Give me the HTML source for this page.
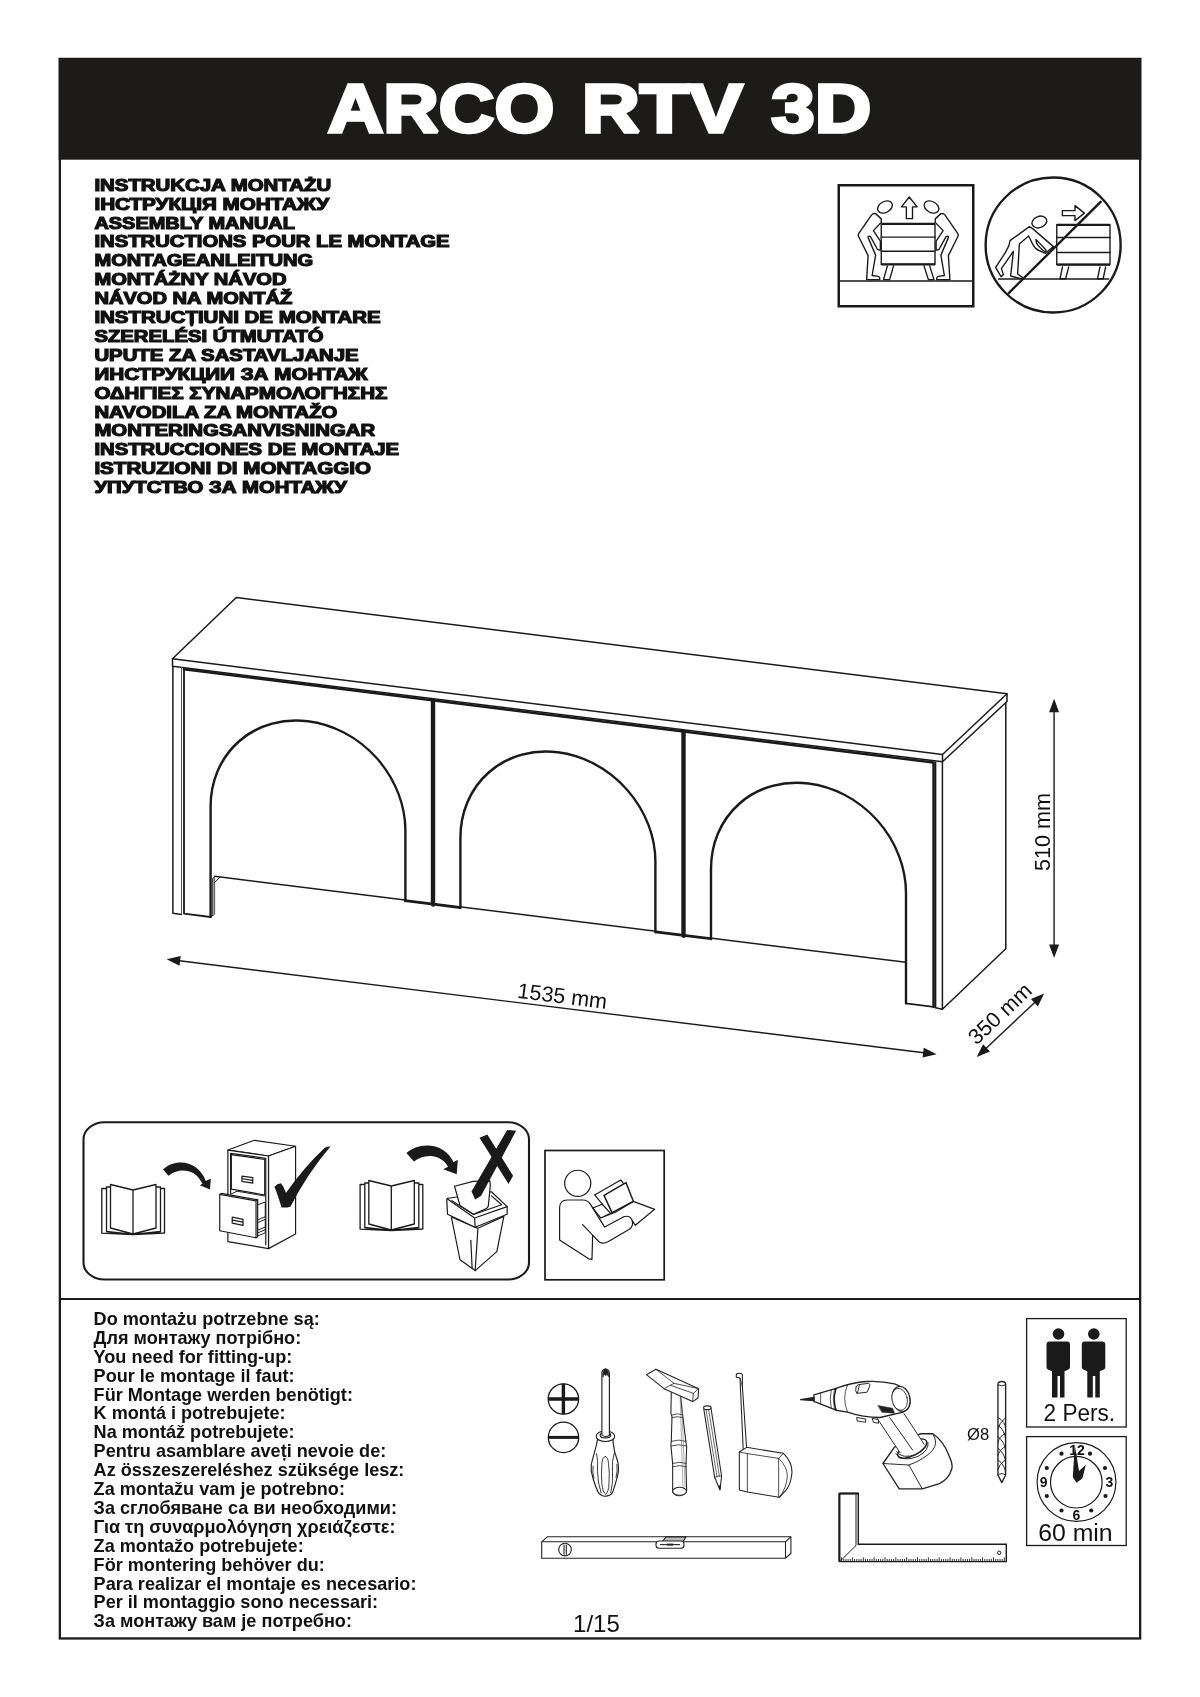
<!DOCTYPE html>
<html><head><meta charset="utf-8">
<style>
html,body{margin:0;padding:0;background:#fff;}
body{width:1200px;height:1697px;position:relative;overflow:hidden;font-family:"Liberation Sans",sans-serif;color:#111;}
svg{position:absolute;left:0;top:0;will-change:transform;}
.t{font-family:"Liberation Sans",sans-serif;}
</style></head><body>
<svg id="g" width="1200" height="1697" viewBox="0 0 1200 1697">
<!--FRAME-->
<rect x="59.85" y="59" width="1080.3" height="1579.45" fill="none" stroke="#1c1b1a" stroke-width="2.3"/>
<rect x="58.7" y="57.9" width="1082.6" height="101.8" fill="#1c1b1a"/>
<path d="M59 1299 H1141" stroke="#1c1b1a" stroke-width="1.9" fill="none"/>
<!--/FRAME-->
<!--TITLE-->
<g class="t" font-size="69" font-weight="bold" fill="#fff" stroke="#fff" stroke-width="3.4" stroke-linejoin="miter" stroke-miterlimit="2">
<text x="327.7" y="132.3" textLength="226.6" lengthAdjust="spacingAndGlyphs">ARCO</text>
<text x="581.7" y="132.3" textLength="161" lengthAdjust="spacingAndGlyphs">RTV</text>
<text x="771.2" y="132.3" textLength="100" lengthAdjust="spacingAndGlyphs">3D</text>
</g>
<!--LANGS-->
<g class="t" font-size="16.5" font-weight="bold" fill="#111" stroke="#111" stroke-width="1.2" stroke-linejoin="miter" stroke-miterlimit="2">
<text x="94.4" y="190.7" textLength="236.8" lengthAdjust="spacingAndGlyphs">INSTRUKCJA MONTAŻU</text>
<text x="94.4" y="209.6" textLength="234.7" lengthAdjust="spacingAndGlyphs">ІНСТРУКЦІЯ МОНТАЖУ</text>
<text x="94.4" y="228.5" textLength="200.5" lengthAdjust="spacingAndGlyphs">ASSEMBLY MANUAL</text>
<text x="94.4" y="247.4" textLength="355.2" lengthAdjust="spacingAndGlyphs">INSTRUCTIONS POUR LE MONTAGE</text>
<text x="94.4" y="266.3" textLength="218.8" lengthAdjust="spacingAndGlyphs">MONTAGEANLEITUNG</text>
<text x="94.4" y="285.2" textLength="192.2" lengthAdjust="spacingAndGlyphs">MONTÁŻNY NÁVOD</text>
<text x="94.4" y="304.1" textLength="198.0" lengthAdjust="spacingAndGlyphs">NÁVOD NA MONTÁŽ</text>
<text x="94.4" y="323.0" textLength="286.3" lengthAdjust="spacingAndGlyphs">INSTRUCȚIUNI DE MONTARE</text>
<text x="94.4" y="341.9" textLength="229.2" lengthAdjust="spacingAndGlyphs">SZERELÉSI ÚTMUTATÓ</text>
<text x="94.4" y="360.8" textLength="264.3" lengthAdjust="spacingAndGlyphs">UPUTE ZA SASTAVLJANJE</text>
<text x="94.4" y="379.7" textLength="273.0" lengthAdjust="spacingAndGlyphs">ИНСТРУКЦИИ ЗА МОНТАЖ</text>
<text x="94.4" y="398.6" textLength="293.0" lengthAdjust="spacingAndGlyphs">ΟΔΗΓΙΕΣ ΣΥΝΑΡΜΟΛΟΓΗΣΗΣ</text>
<text x="94.4" y="417.5" textLength="243.0" lengthAdjust="spacingAndGlyphs">NAVODILA ZA MONTAŽO</text>
<text x="94.4" y="436.4" textLength="280.8" lengthAdjust="spacingAndGlyphs">MONTERINGSANVISNINGAR</text>
<text x="94.4" y="455.3" textLength="304.7" lengthAdjust="spacingAndGlyphs">INSTRUCCIONES DE MONTAJE</text>
<text x="94.4" y="474.2" textLength="276.7" lengthAdjust="spacingAndGlyphs">ISTRUZIONI DI MONTAGGIO</text>
<text x="94.4" y="493.1" textLength="252.5" lengthAdjust="spacingAndGlyphs">УПУТСТВО ЗА МОНТАЖУ</text>
</g>
<!--/LANGS-->
<!--NEED-->
<g class="t" font-size="18.1" font-weight="bold" fill="#111">
<text x="93.6" y="1324.9">Do montażu potrzebne są:</text>
<text x="93.6" y="1343.8">Для монтажу потрібно:</text>
<text x="93.6" y="1362.7">You need for fitting-up:</text>
<text x="93.6" y="1381.6">Pour le montage il faut:</text>
<text x="93.6" y="1400.5">Für Montage werden benötigt:</text>
<text x="93.6" y="1419.4">K montá i potrebujete:</text>
<text x="93.6" y="1438.3">Na montáž potrebujete:</text>
<text x="93.6" y="1457.2">Pentru asamblare aveți nevoie de:</text>
<text x="93.6" y="1476.1">Az összeszereléshez szüksége lesz:</text>
<text x="93.6" y="1495.0">Za montažu vam je potrebno:</text>
<text x="93.6" y="1513.9">За сглобяване са ви необходими:</text>
<text x="93.6" y="1532.8">Για τη συναρμολόγηση χρειάζεστε:</text>
<text x="93.6" y="1551.7">Za montažo potrebujete:</text>
<text x="93.6" y="1570.6">För montering behöver du:</text>
<text x="93.6" y="1589.5">Para realizar el montaje es necesario:</text>
<text x="93.6" y="1608.4">Per il montaggio sono necessari:</text>
<text x="93.6" y="1627.3">За монтажу вам је потребно:</text>
</g>
<!--/NEED-->
<!--FURN-->
<g fill="none" stroke="#1a1a1a" stroke-width="1.5" stroke-linejoin="round" stroke-linecap="round">
<path d="M172.5 658.8 L236.3 597.5 L1007 693.8 L942.5 754.5 Z"/>
<path d="M172.5 658.8 V666.3 L942.5 761.8 V754.5 M942.5 761.8 L1007 701.5 V693.8"/>
<path d="M942.4 761.8 V1009.2 L1005.8 948.8 V702.6"/>
<path d="M935.6 762.0 V1007.7 L942.4 1009.2"/>
<g transform="matrix(1 0.1245 0 1 0 0)">
<path d="M172.9 644.8 V891.8 L181.5 891.8"/>
<path d="M181.5 645 V891.8" stroke="#555" stroke-width="1"/>
<path d="M184 646.4 H933.4" stroke-width="2.5"/>
<path d="M184 646.4 V890.8 H210.6" stroke-width="1.8"/>
<path d="M214.6 849.6 H905.8" stroke-width="1.5"/>
<path d="M405.0 850.6 H433.0" stroke-width="2"/>
<path d="M433.0 850.6 H460.4" stroke-width="2"/>
<path d="M655.4 850.6 H683.5" stroke-width="2"/>
<path d="M683.5 850.6 H711.0" stroke-width="2"/>
<path d="M905.8 890.6 H933.6" stroke-width="1.8"/>
<path d="M433 646.4 V850.6" stroke-width="4.4"/>
<path d="M683.5 646.4 V850.6" stroke-width="4.4"/>
<path d="M933.6 646.4 V890.8" stroke-width="2.6"/>
<path d="M210.6 890.8 V780.3 A97.4 97.4 0 0 1 405.4 780.3 V850.6" stroke-width="2.4"/>
<path d="M460.4 850.6 V780.3 A97.5 97.5 0 0 1 655.4 780.3 V850.6" stroke-width="2.4"/>
<path d="M711.0 850.6 V780.3 A97.5 97.5 0 0 1 906.0 780.3 V890.6" stroke-width="2.4"/>
</g>
<path d="M212.6 878.5 V914.6 L210.2 917.1 M212.6 878.5 L214.6 876.3 V914.2 L210.4 917.2" stroke-width="1"/>
<path d="M212.6 878.5 L214.6 876.3 V914.2 L212.6 914.8Z" fill="#999" stroke="none"/>
<path d="M214.6 882.5 L220 877" stroke-width="1"/>
</g>
<path d="M177.4 960.5 L925.9 1053.0" stroke="#1a1a1a" stroke-width="1.4" fill="none"/><path d="M166.7 959.2 L179.5 965.8 L180.7 955.9 Z" fill="#1a1a1a"/><path d="M936.6 1054.3 L922.6 1057.6 L923.8 1047.7 Z" fill="#1a1a1a"/>
<path d="M1054.1 709.6 L1054.1 947.3" stroke="#1a1a1a" stroke-width="1.4" fill="none"/><path d="M1054.1 698.8 L1049.1 712.3 L1059.1 712.3 Z" fill="#1a1a1a"/><path d="M1054.1 958.1 L1049.1 944.6 L1059.1 944.6 Z" fill="#1a1a1a"/>
<path d="M984.6 1049.7 L1036.3 1000.9" stroke="#1a1a1a" stroke-width="1.4" fill="none"/><path d="M976.7 1057.1 L990.0 1051.5 L983.1 1044.2 Z" fill="#1a1a1a"/><path d="M1044.2 993.5 L1037.8 1006.4 L1030.9 999.1 Z" fill="#1a1a1a"/>
<g class="t" font-size="21.6" fill="#111">
<text transform="translate(561.5 1003.3) rotate(7.1)" text-anchor="middle">1535 mm</text>
<text transform="translate(1050 832) rotate(-90)" text-anchor="middle">510 mm</text>
<text transform="translate(1005 1019) rotate(-43.3)" text-anchor="middle">350 mm</text>
</g>
<!--/FURN-->
<!--ICONS-->
<g id="ic-lift" transform="translate(830 175) scale(0.125)" fill="none" stroke="#1a1a1a" stroke-width="11" stroke-linejoin="round" stroke-linecap="round">
<rect x="70" y="82" width="1076" height="968" stroke-width="20" stroke-linejoin="miter"/>
<path d="M70 848 H1146" stroke-width="11"/>
<!-- left person -->
<ellipse cx="440" cy="256" rx="63" ry="44" transform="rotate(-30 440 256)"/>
<path id="pl" d="M365 309 Q345 305 333 319 L232 465 Q222 480 229 492 L305 645 L293 837 H398 Q402 815 385 811 L337 804 L365 641 L305 501 Q303 488 316 490 Q322 490 326 497 L379 594 Q390 602 403 599 V529 L347 445 L410 379 V351 Z"/>
<!-- right person -->
<ellipse cx="812" cy="256" rx="63" ry="44" transform="rotate(30 812 256)"/>
<use href="#pl" transform="translate(1252 0) scale(-1 1)"/>
<!-- dresser -->
<path d="M459 727 L428 837 H477 L508 727 M752 727 L787 837 H832 L797 727"/>
<rect x="410" y="391" width="430" height="324" fill="#fff"/>
<path d="M410 391 H840 M410 715 H840" stroke-width="17" stroke-linecap="butt"/>
<path d="M410 497 H840 M410 610 H840"/>
<!-- arrow -->
<path d="M634 176 L697 255 H660 V349 H611 V255 H572 Z"/>
</g>
<g id="ic-push" transform="translate(980 175) scale(0.125)" fill="none" stroke="#1a1a1a" stroke-width="11" stroke-linejoin="round" stroke-linecap="round">
<circle cx="585" cy="560" r="540" stroke-width="19"/>
<path d="M148 832 H1030" stroke-width="11"/>
<!-- dresser -->
<path d="M660 735 L640 830 H685 L710 735 M960 735 L940 830 H985 L1005 735"/>
<rect x="614" y="398" width="426" height="318" fill="#fff"/>
<path d="M614 398 H1040 M614 716 H1040" stroke-width="18" stroke-linecap="butt"/>
<path d="M614 500 H1040 M614 620 H1040"/>
<!-- arrow -->
<path d="M659 285 H760 V245 L835 305 L760 365 V325 H659 Z"/>
<!-- person -->
<ellipse cx="475" cy="376" rx="61" ry="45" transform="rotate(-22 475 376)"/>
<path d="M395 413 L240 525 L232 563 L203 621 L125 739 L168 813 L187 797 L171 749 L267 611 L245 808 L336 832 L341 821 L301 792 L315 552 L389 488 L421 552 Q440 590 464 600 L523 627 L587 573 L421 429 Z"/>
<path d="M448 515 Q445 540 464 563 Q495 600 523 616 Q532 610 528 600 Q490 560 448 515 Z"/>
<!-- slash -->
<path d="M230 945 L965 215" stroke-width="19"/>
</g>
<rect x="83.5" y="1122.3" width="445.5" height="157.2" rx="21" ry="17" fill="none" stroke="#1a1a1a" stroke-width="2.1"/>
<rect x="545" y="1150.5" width="119.2" height="129.3" fill="none" stroke="#1a1a1a" stroke-width="1.7"/>
<g id="book1" transform="translate(95 1150) scale(0.1)" fill="#fff" stroke="#1a1a1a" stroke-width="13" stroke-linejoin="round" stroke-linecap="round">
<path id="bk" d="M68 385 H115 V370 H155 V345 L380 400 L610 345 V370 H655 V385 H695 V830 L380 845 L68 832 Z M115 385 V815 L380 845 L655 815 V385 M155 370 V780 L380 840 L610 780 V370 M380 400 V840"/>
</g>
<use href="#bk" transform="translate(353.3 1146) scale(0.1)" fill="#fff" stroke="#1a1a1a" stroke-width="13" stroke-linejoin="round"/>
<g fill="#1a1a1a" stroke="none">
<path id="carrow" transform="translate(95 1150) scale(0.1)" d="M680 195 C 760 120, 900 95, 1010 175 C 1060 215, 1090 260, 1108 310 L1158 285 L1150 395 L1048 352 L1075 338 C 1050 290, 1020 250, 985 232 C 900 185, 800 205, 735 258 Z"/>
<path transform="translate(395 1120) scale(0.10833)" d="M105 305 C 180 235, 330 205, 440 275 C 490 310, 520 345, 540 390 L580 368 L570 500 L445 455 L490 432 C 470 395, 440 365, 400 348 C 320 315, 235 335, 175 382 Z"/>
</g>
<!-- cabinet -->
<g transform="translate(210 1130) scale(0.10833)" fill="#fff" stroke="#1a1a1a" stroke-width="11" stroke-linejoin="round" stroke-linecap="round">
<path d="M165 185 L410 95 L790 150 L540 240 Z"/>
<path d="M540 240 L790 150 V960 L540 1095 Z"/>
<path d="M165 185 L540 240 V1095 L165 1030 Z"/>
<path d="M190 215 L515 262 V1060 M190 215 V590" fill="none"/>
<path d="M197 228 L505 272 V600 L197 545 Z"/>
<path d="M295 425 L395 440 V490 L295 475 Z M300 450 L392 465"/>
<path d="M197 590 L250 565 L510 610 M440 690 L510 665 V950 L440 978 M440 830 L510 800 M440 855 L510 825 M440 925 L510 895 M440 950 L510 920" fill="none" stroke-width="9"/>
<path d="M90 595 L105 585 L440 645 V985 L425 995 L90 930 Z"/>
<path d="M90 595 L425 655 V995 M425 655 L440 645" fill="none"/>
<path d="M205 805 L305 825 V880 L205 860 Z M210 832 L302 850"/>
</g>
<!-- trash -->
<g transform="translate(395 1120) scale(0.10833)" fill="#fff" stroke="#1a1a1a" stroke-width="11" stroke-linejoin="round" stroke-linecap="round">
<path d="M520 895 L600 1290 L740 1390 L940 1215 L1005 890 L765 1000 Z"/>
<path d="M765 1010 L740 1390 M700 1110 L712 1370" fill="none"/>
<path d="M478 735 Q478 722 492 722 L890 662 L1035 800 V870 L740 990 L485 870 Z"/>
<path d="M485 730 L735 905 L1035 800 M735 905 L740 990" fill="none"/>
<path d="M525 745 L725 872 L985 782 L890 700" fill="none"/>
<path d="M560 632 L600 775" fill="none"/>
<path d="M550 612 L720 567 L875 560 L880 600 L862 790 Q858 812 838 820 L725 870 L600 790 Z"/>
</g>
<g fill="#1a1a1a" stroke="none">
<!-- check -->
<path transform="translate(210 1130) scale(0.10833)" d="M595 525 Q620 495 655 492 Q680 520 702 580 Q880 330 1060 165 Q1085 150 1112 152 Q900 400 742 708 Q700 720 660 715 Q625 600 595 525 Z"/>
<!-- X -->
<path transform="translate(395 1120) scale(0.10833)" d="M780 165 L852 135 L1090 515 L1048 590 Z M1035 92 L1118 100 L795 700 L740 735 L706 660 Z"/>
</g>
<!-- reader -->
<g transform="translate(530 1130) scale(0.13333)" fill="none" stroke="#1a1a1a" stroke-width="9" stroke-linejoin="round" stroke-linecap="round">
<circle cx="358" cy="400" r="98"/>
<path d="M485 487 L680 375 L700 398 M485 487 L545 560"/>
<path d="M555 490 L720 395 L775 535 L615 620 Z" stroke-width="11"/>
<path d="M470 585 L542 557 L605 625 L530 660 Z M530 660 L640 617 M775 535 L935 595 L790 715 L768 682 M640 617 L775 537"/>
<path d="M222 825 V585 Q222 525 280 525 H395 Q435 525 455 560 L560 728 L700 652 Q745 635 765 675 Q780 720 745 745 L585 838 Q535 865 500 820 L395 710 M470 790 L465 970 L440 966 L222 825"/>
</g>
<!-- plus/minus -->
<g fill="none" stroke="#1a1a1a">
<circle cx="563.4" cy="1399" r="15.2" stroke-width="1.3"/>
<path d="M548.2 1399 H578.6 M563.4 1383.8 V1414.2" stroke-width="3.4"/>
<circle cx="563.5" cy="1437.4" r="15.2" stroke-width="1.3"/>
<path d="M548.3 1437.4 H578.7" stroke-width="3"/>
</g>
<!-- screwdriver -->
<g transform="translate(540 1360) scale(0.08842)" fill="#fff" stroke="#222" stroke-width="13" stroke-linejoin="round" stroke-linecap="round">
<path d="M650 900 Q640 960 625 1010 Q600 1100 580 1180 Q570 1260 600 1340 Q630 1440 660 1500 Q700 1545 740 1540 Q790 1540 820 1500 Q850 1420 880 1300 Q900 1200 870 1120 Q840 1040 830 960 L825 900 Z"/>
<path d="M740 1090 Q700 1100 700 1180 Q690 1300 700 1400 Q710 1500 745 1520 Q775 1490 780 1400 Q790 1280 775 1170 Q770 1100 740 1090 M640 1060 Q660 1150 650 1250 Q650 1380 690 1500 M840 1050 Q810 1150 820 1260 Q830 1380 800 1500 M600 1200 Q590 1280 610 1340 M870 1180 Q880 1260 860 1330" fill="none" stroke-width="10"/>
<ellipse cx="740" cy="862" rx="105" ry="60"/>
<ellipse cx="740" cy="850" rx="60" ry="30"/>
<path d="M700 850 V150 Q700 110 740 100 Q785 110 785 150 V850 Q742 880 700 850 Z"/>
<path d="M712 190 Q705 115 742 102 Q780 115 775 190 Q760 150 742 175 Q725 150 712 190 Z" fill="#222" stroke-width="8"/>
</g>
<!-- hammer, pencil, tape -->
<g transform="translate(640 1360) scale(0.13333)" fill="#fff" stroke="#222" stroke-width="8" stroke-linejoin="round" stroke-linecap="round">
<path d="M235 215 L232 400 L240 425 L235 600 L232 640 L245 780 L245 990 Q260 1020 300 1018 Q345 1010 350 980 L345 790 L350 650 L345 620 L322 430 L318 400 L300 230 Z"/>
<ellipse cx="297" cy="985" rx="52" ry="30" fill="#fff"/>
<path d="M240 412 Q280 395 320 410 M238 432 Q280 418 322 432 M234 610 Q290 590 346 610 M234 645 Q290 625 350 645 M245 775 Q295 760 346 775 M245 800 Q295 785 346 800" fill="none" stroke-width="6"/>
<path d="M300 240 L322 960 M312 300 L338 950" fill="none" stroke-width="4" stroke="#666"/>
<path d="M48 110 L120 70 L440 215 L435 285 L395 312 L180 215 Z"/>
<path d="M180 215 L255 175 L440 215 M255 175 L120 70 M395 312 L400 250 L440 215 M400 250 L230 190" fill="none" stroke-width="6"/>
<!-- pencil -->
<path d="M478 365 L560 880 L600 975 L612 870 L532 358 Z"/>
<ellipse cx="505" cy="358" rx="28" ry="14"/>
<path d="M495 372 L578 878 M515 372 L596 874 M560 880 Q585 865 612 870" fill="none" stroke-width="5"/>
<path d="M588 945 L600 975 L606 940 Z" fill="#222" stroke-width="3"/>
<!-- tape -->
<path d="M722 130 V112 Q722 100 745 100 Q768 100 768 115 V200 L800 665 L775 690 L750 135 Z"/>
<path d="M750 135 L768 200" fill="none" stroke-width="5"/>
<path d="M745 690 L800 655 L1075 700 Q1140 760 1140 840 Q1135 920 1100 970 L1045 1030 L805 990 L745 975 Z"/>
<path d="M745 690 L805 702 L1040 738 L1075 700 M805 702 V990 M1040 738 V1030 M1040 738 Q1105 800 1105 870 Q1100 960 1045 1030" fill="none" stroke-width="6"/>
</g>
<!-- drill -->
<g transform="translate(790 1360) scale(0.19167)" fill="#fff" stroke="#222" stroke-width="7" stroke-linejoin="round" stroke-linecap="round">
<!-- battery -->
<path d="M485 540 L545 455 L680 385 H745 Q800 420 830 500 Q850 545 845 565 Q830 620 780 645 L690 672 H570 Z"/>
<path d="M485 540 L620 548 L690 672 M620 548 Q700 520 745 470 Q775 430 745 385" fill="none" stroke-width="5"/>
<!-- handle -->
<ellipse cx="638" cy="462" rx="84" ry="36" transform="rotate(-28 638 462)" fill="#fff"/>
<path d="M455 305 L575 485 L640 470 L700 440 L595 280 Z" stroke="none"/>
<path d="M455 305 L575 485 M700 440 L595 280 M520 300 L640 470" fill="none" stroke-width="5"/>
<path d="M556 478 Q585 520 660 492 Q720 462 712 422 M552 490 Q590 535 668 503 Q728 470 720 430" fill="none" stroke-width="5"/>
<!-- body -->
<path d="M240 148 Q320 118 400 112 Q480 108 545 125 Q600 140 625 200 Q635 250 590 272 L470 300 Q380 300 300 272 L240 262 Q220 205 240 148 Z"/>
<path d="M125 182 L240 148 Q222 205 240 262 L125 216 Z"/>
<path d="M160 172 V230 M215 156 Q205 205 215 252 M232 150 Q220 205 232 258 M300 130 Q270 200 300 272" fill="none" stroke-width="4"/>
<path d="M55 207 L125 195 V212 Z" fill="#222"/>
<ellipse cx="580" cy="203" rx="46" ry="66" transform="rotate(-12 580 203)"/>
<ellipse cx="572" cy="205" rx="40" ry="58" transform="rotate(-12 572 205)" stroke-width="4"/>
<path d="M345 140 Q348 130 360 128 L410 122 Q420 124 416 136 L402 168 L348 174 Q338 160 345 140 Z M362 130 L352 172" stroke-width="5"/>
<path d="M460 238 L535 252 L545 278 L480 272 Z" fill="#222" stroke-width="3"/>
<path d="M350 300 L395 308 V325 L352 318 Z M430 305 L460 310 L462 330 L438 326 Z" stroke-width="5"/>
<!-- drill bit -->
<path d="M1085 128 Q1085 112 1105 112 Q1125 112 1125 128 V600 L1105 640 L1085 600 Z"/>
<path d="M1085 130 Q1105 140 1125 130 M1085 300 Q1125 320 1125 360 M1085 340 Q1125 370 1125 420 M1085 400 Q1125 430 1125 480 M1085 460 Q1125 490 1125 540 M1085 520 Q1125 550 1125 595 M1125 300 Q1090 330 1085 360 M1125 380 Q1090 400 1085 430 M1125 450 Q1090 470 1085 500 M1125 520 Q1090 545 1085 570 M1085 600 Q1105 585 1125 600" fill="none" stroke-width="5"/>
</g>
<text class="t" x="967" y="1439.6" font-size="16.6" fill="#111">Ø8</text>
<!-- level -->
<g fill="#fff" stroke="#222" stroke-width="1.1" stroke-linejoin="round">
<path d="M541.7 1541.8 L547.5 1536.7 H790.9 V1553.5 L785.5 1558.2 H541.7 Z"/>
<path d="M541.7 1541.8 H785.5 V1558.2 M785.5 1541.8 L790.9 1536.7" fill="none"/>
<circle cx="565" cy="1549.6" r="6.3"/>
<path d="M564 1544.5 V1554.7 M566.3 1544.5 V1554.7" fill="none"/>
<path d="M662 1541.8 L666 1536.9 H686 L683 1541.8" fill="#bbb"/>
<rect x="656" y="1541" width="28" height="7.2" rx="3"/>
<path d="M660 1544.6 H680" fill="none"/>
<path d="M667 1544.6 H673" stroke-width="2" fill="none"/>
</g>
<!-- square -->
<g fill="#fff" stroke="#1a1a1a" stroke-width="1.4" stroke-linejoin="miter">
<path d="M839.4 1493.5 H858.3 V1544.3 H1006.3 V1561.6 H839.4 Z"/>
<path d="M839.4 1493.5 V1561.6 M839.4 1493.5 H858.3" stroke-width="2" fill="none"/>
<path d="M856 1494.5 V1545.5 L840.3 1561" stroke-width="1" fill="none"/>
<circle cx="999.2" cy="1552.8" r="1.7" stroke-width="1"/>
<path id="ticks" d="M841.6 1561.6 v-4.2 M843.8 1561.6 v-2.6 M845.9 1561.6 v-2.6 M848.1 1561.6 v-2.6 M850.3 1561.6 v-2.6 M852.4 1561.6 v-4.2 M854.6 1561.6 v-2.6 M856.8 1561.6 v-2.6 M859.0 1561.6 v-2.6 M861.1 1561.6 v-2.6 M863.3 1561.6 v-4.2 M865.5 1561.6 v-2.6 M867.6 1561.6 v-2.6 M869.8 1561.6 v-2.6 M872.0 1561.6 v-2.6 M874.1 1561.6 v-4.2 M876.3 1561.6 v-2.6 M878.5 1561.6 v-2.6 M880.7 1561.6 v-2.6 M882.8 1561.6 v-2.6 M885.0 1561.6 v-4.2 M887.2 1561.6 v-2.6 M889.3 1561.6 v-2.6 M891.5 1561.6 v-2.6 M893.7 1561.6 v-2.6 M895.8 1561.6 v-4.2 M898.0 1561.6 v-2.6 M900.2 1561.6 v-2.6 M902.4 1561.6 v-2.6 M904.5 1561.6 v-2.6 M906.7 1561.6 v-4.2 M908.9 1561.6 v-2.6 M911.0 1561.6 v-2.6 M913.2 1561.6 v-2.6 M915.4 1561.6 v-2.6 M917.5 1561.6 v-4.2 M919.7 1561.6 v-2.6 M921.9 1561.6 v-2.6 M924.1 1561.6 v-2.6 M926.2 1561.6 v-2.6 M928.4 1561.6 v-4.2 M930.6 1561.6 v-2.6 M932.7 1561.6 v-2.6 M934.9 1561.6 v-2.6 M937.1 1561.6 v-2.6 M939.2 1561.6 v-4.2 M941.4 1561.6 v-2.6 M943.6 1561.6 v-2.6 M945.8 1561.6 v-2.6 M947.9 1561.6 v-2.6 M950.1 1561.6 v-4.2 M952.3 1561.6 v-2.6 M954.4 1561.6 v-2.6 M956.6 1561.6 v-2.6 M958.8 1561.6 v-2.6 M960.9 1561.6 v-4.2 M963.1 1561.6 v-2.6 M965.3 1561.6 v-2.6 M967.5 1561.6 v-2.6 M969.6 1561.6 v-2.6 M971.8 1561.6 v-4.2 M974.0 1561.6 v-2.6 M976.1 1561.6 v-2.6 M978.3 1561.6 v-2.6 M980.5 1561.6 v-2.6 M982.6 1561.6 v-4.2 M984.8 1561.6 v-2.6 M987.0 1561.6 v-2.6 M989.2 1561.6 v-2.6 M991.3 1561.6 v-2.6 M993.5 1561.6 v-4.2 M995.7 1561.6 v-2.6 M997.8 1561.6 v-2.6 M1000.0 1561.6 v-2.6 M1002.2 1561.6 v-2.6 M1004.3 1561.6 v-4.2" stroke-width="0.9" fill="none"/>
</g>
<!-- 2 pers -->
<rect x="1026.6" y="1318.6" width="99.6" height="108.4" fill="none" stroke="#1a1a1a" stroke-width="1.3"/>
<g transform="translate(1020 1310) scale(0.1)" fill="#1a1a1a">
<g id="man"><circle cx="385" cy="240" r="58"/>
<path d="M295 315 H470 Q500 315 500 345 V570 Q500 590 480 598 L445 612 V875 H400 V660 H375 V875 H320 V612 L285 598 Q265 590 265 570 V345 Q265 315 295 315 Z"/></g>
<use href="#man" x="353"/>
</g>
<text class="t" x="1043.6" y="1420.6" font-size="23" fill="#111" textLength="71.5" lengthAdjust="spacingAndGlyphs">2 Pers.</text>
<!-- clock -->
<rect x="1026.6" y="1436.6" width="99.6" height="108.9" fill="none" stroke="#1a1a1a" stroke-width="1.3"/>
<g transform="translate(1020 1430) scale(0.1)">
<circle cx="565" cy="520" r="394" fill="none" stroke="#1a1a1a" stroke-width="12"/>
<circle cx="563" cy="522" r="258" fill="none" stroke="#1a1a1a" stroke-width="12"/>
<g fill="#1a1a1a">
<circle cx="415" cy="237" r="21"/><circle cx="700" cy="237" r="21"/><circle cx="268" cy="380" r="21"/><circle cx="850" cy="380" r="21"/>
<circle cx="268" cy="660" r="21"/><circle cx="855" cy="660" r="21"/><circle cx="415" cy="805" r="21"/><circle cx="712" cy="805" r="21"/>
<path d="M548 150 L590 410 L658 348 L625 482 L565 528 L528 470 Z"/>
</g>
<g class="t" font-size="140" font-weight="bold" fill="#111" text-anchor="middle">
<text x="570" y="250">12</text><text x="895" y="573">3</text><text x="237" y="573">9</text><text x="565" y="895">6</text>
</g>
</g>
<text class="t" x="1038.2" y="1540.6" font-size="23.5" fill="#111" textLength="74.5" lengthAdjust="spacingAndGlyphs">60 min</text>
<text class="t" x="573.1" y="1631.7" font-size="24" fill="#111">1/15</text>

<!--/ICONS-->
</svg>
</body></html>
